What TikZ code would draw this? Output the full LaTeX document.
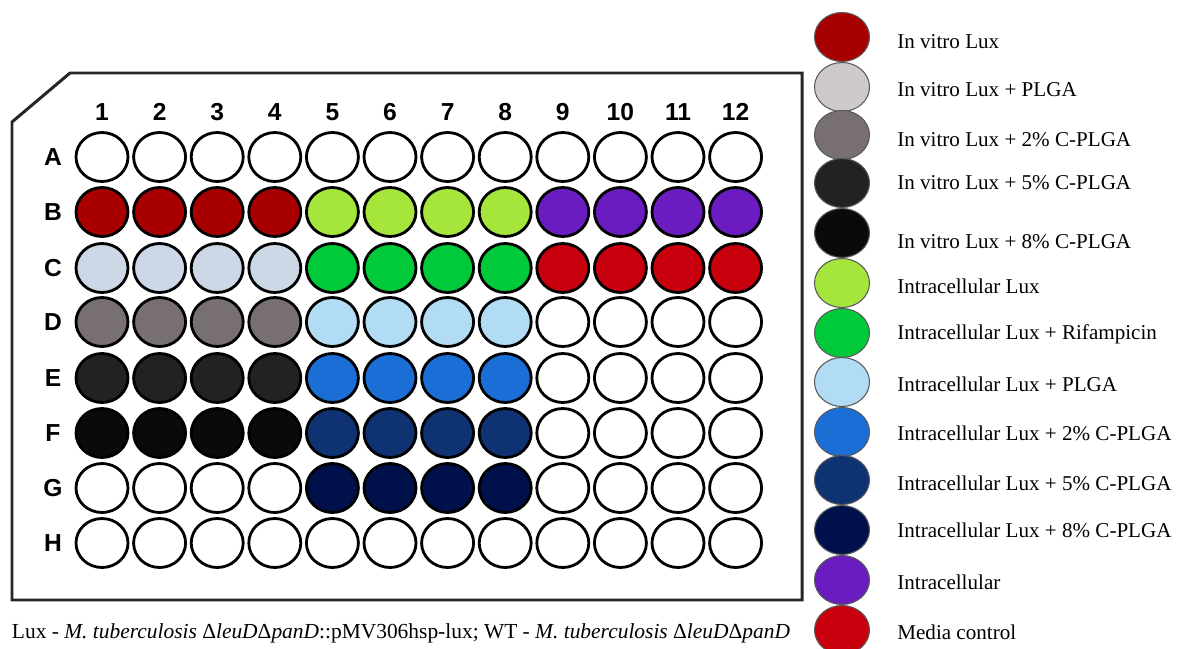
\documentclass[tikz,border=0pt]{standalone}
\usepackage{fontspec}
\setmainfont{Liberation Serif}
\newfontfamily\platefont{Liberation Sans}
\usetikzlibrary{shapes.geometric, positioning}

\definecolor{ivlux}{HTML}{A80000}
\definecolor{ivplga}{HTML}{CCD8E6}
\definecolor{ivtwo}{HTML}{787070}
\definecolor{ivfive}{HTML}{222222}
\definecolor{iveight}{HTML}{0A0A0A}
\definecolor{iclux}{HTML}{A6E63C}
\definecolor{icrif}{HTML}{00C93A}
\definecolor{icplga}{HTML}{B2DCF4}
\definecolor{ictwo}{HTML}{1A6ED6}
\definecolor{icfive}{HTML}{0E3272}
\definecolor{iceight}{HTML}{00104A}
\definecolor{icell}{HTML}{6A1CC0}
\definecolor{media}{HTML}{C8000E}
\definecolor{lgplga}{HTML}{CECACA}

\begin{document}
\begin{tikzpicture}[
  x=0.02cm, y=-0.02cm,
  plate/.style={line width=1.7pt, draw=black!85, line join=miter},
  well/.style={ellipse, draw=black, line width=1.6pt, inner sep=0pt,
    minimum width=1.04cm, minimum height=0.98cm},
  head/.style={font=\platefont\bfseries\fontsize{14}{16}\selectfont, inner sep=0pt},
  swatch/.style={ellipse, draw=black!65, line width=0.6pt, inner sep=0pt,
    minimum width=1.1cm, minimum height=0.98cm},
  lgtext/.style={anchor=west, inner sep=0pt, font=\fontsize{12}{14}\selectfont},
]
\useasboundingbox (0,0) rectangle (1177,649);

% ── Plate outline ──
\draw[plate] (12,122) -- (70,73) -- (802,73) -- (802,600) -- (12,600) -- cycle;

% ── Column and row headings ──
\foreach \c in {1,...,12}
  \node[head] (col\c) at ({102+(\c-1)*57.6},112) {\c};
\foreach \r/\y in {A/157,B/212,C/268,D/322,E/378,F/433,G/488,H/543}
  \node[head] (row\r) at (53,\y) {\r};

% ── Wells: three groups of four columns per row ──
\foreach \r/\y/\ca/\cb/\cc in {A/157/white/white/white, B/212/ivlux/iclux/icell,
    C/268/ivplga/icrif/media, D/322/ivtwo/icplga/white, E/378/ivfive/ictwo/white,
    F/433/iveight/icfive/white, G/488/white/iceight/white, H/543/white/white/white}{
  \foreach \c in {1,...,4}
    \node[well, fill=\ca] (w\r\c) at ({102+(\c-1)*57.6},\y) {};
  \foreach \c in {5,...,8}
    \node[well, fill=\cb] (w\r\c) at ({102+(\c-1)*57.6},\y) {};
  \foreach \c in {9,...,12}
    \node[well, fill=\cc] (w\r\c) at ({102+(\c-1)*57.6},\y) {};
}

% ── Strain note ──
\node[inner sep=0pt, font=\fontsize{12.2}{14}\selectfont] (note) at (401,633)
  {Lux - \textit{M. tuberculosis} {\upshape Δ}\textit{leuD}{\upshape Δ}\textit{panD}::pMV306hsp-lux;
   WT - \textit{M. tuberculosis} {\upshape Δ}\textit{leuD}{\upshape Δ}\textit{panD}};

% ── Legend ──
\foreach \i/\y/\ty/\col/\txt in {
    1/37/42/ivlux/In vitro Lux,
    2/87/90/lgplga/In vitro Lux + PLGA,
    3/135/140/ivtwo/In vitro Lux + 2\% C-PLGA,
    4/183/183/ivfive/In vitro Lux + 5\% C-PLGA,
    5/233/242/iveight/In vitro Lux + 8\% C-PLGA,
    6/283/286/iclux/Intracellular Lux,
    7/333/334/icrif/Intracellular Lux + Rifampicin,
    8/382/384/icplga/Intracellular Lux + PLGA,
    9/432/433/ictwo/Intracellular Lux + 2\% C-PLGA,
    10/480/483/icfive/Intracellular Lux + 5\% C-PLGA,
    11/530/530/iceight/Intracellular Lux + 8\% C-PLGA,
    12/580/582/icell/Intracellular,
    13/630/632/media/Media control}{
  \node[swatch, fill=\col] (l\i) at (842,\y) {};
  \node[lgtext] (t\i) at (897,\ty) {\txt};
}
\end{tikzpicture}
\end{document}
